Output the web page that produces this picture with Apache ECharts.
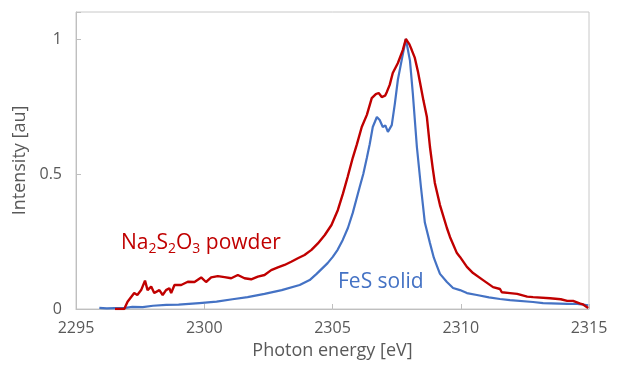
<!DOCTYPE html>
<html>
<head>
<meta charset="utf-8">
<script src="https://cdn.jsdelivr.net/npm/echarts@6/dist/echarts.min.js"></script>
<style>html,body{margin:0;padding:0;background:#fff}#c{width:617px;height:370px}</style>
</head>
<body>
<div id="c"></div>
<script>
const xTicks = [2295, 2300, 2305, 2310, 2315];
const yTicks = [0, 0.5, 1];

const naEnergy = [2296.52,2296.88,2297.01,2297.27,2297.39,2297.54,2297.69,2297.79,2297.93,2298.05,2298.25,2298.38,2298.51,2298.64,2298.71,2298.84,2299.10,2299.36,2299.62,2299.88,2300.07,2300.27,2300.53,2300.79,2301.05,2301.31,2301.57,2301.83,2302.09,2302.35,2302.61,2302.87,2303.13,2303.39,2303.65,2303.91,2304.18,2304.43,2304.70,2304.96,2305.21,2305.41,2305.59,2305.79,2305.95,2306.14,2306.34,2306.53,2306.69,2306.80,2306.92,2307.05,2307.12,2307.23,2307.35,2307.55,2307.74,2307.86,2308.00,2308.09,2308.21,2308.33,2308.41,2308.55,2308.68,2308.80,2308.91,2308.99,2309.19,2309.46,2309.58,2309.85,2309.97,2310.24,2310.48,2310.87,2311.26,2311.53,2311.60,2311.92,2312.20,2312.59,2312.82,2313.48,2313.90,2314.15,2314.38,2314.66,2314.77,2314.97];
const naIntensity = [0,0,0.027,0.059,0.052,0.07,0.105,0.07,0.083,0.059,0.07,0.052,0.07,0.077,0.059,0.089,0.089,0.101,0.1,0.117,0.1,0.117,0.122,0.118,0.114,0.126,0.114,0.11,0.12,0.126,0.144,0.154,0.163,0.175,0.188,0.2,0.219,0.243,0.274,0.311,0.367,0.428,0.489,0.56,0.61,0.674,0.719,0.781,0.796,0.8,0.785,0.79,0.804,0.83,0.874,0.911,0.959,1.0,0.98,0.959,0.93,0.88,0.84,0.77,0.711,0.6,0.52,0.467,0.385,0.3,0.267,0.207,0.193,0.156,0.133,0.107,0.081,0.074,0.062,0.059,0.056,0.046,0.044,0.04,0.036,0.03,0.03,0.02,0.017,0.004];

const fesEnergy = [2295.91,2296.2,2296.5,2296.92,2297.2,2297.6,2298.0,2298.52,2299.0,2299.81,2300.48,2301.1,2301.69,2302.35,2303.02,2303.72,2304.11,2304.38,2304.81,2305.01,2305.2,2305.4,2305.6,2305.79,2306.06,2306.2,2306.34,2306.45,2306.57,2306.73,2306.84,2306.96,2307.06,2307.16,2307.31,2307.43,2307.55,2307.72,2307.86,2308.02,2308.13,2308.29,2308.45,2308.6,2308.8,2308.95,2309.07,2309.19,2309.46,2309.7,2309.97,2310.24,2310.63,2311.1,2311.53,2311.92,2312.82,2313.21,2314.15,2314.54,2314.97];
const fesIntensity = [0.004,0.002,0.003,0.004,0.008,0.007,0.012,0.015,0.016,0.022,0.027,0.036,0.044,0.056,0.07,0.089,0.107,0.13,0.17,0.193,0.219,0.256,0.3,0.356,0.452,0.5,0.56,0.61,0.674,0.711,0.7,0.674,0.68,0.656,0.681,0.76,0.85,0.933,1.0,0.92,0.8,0.6,0.45,0.32,0.244,0.19,0.16,0.13,0.1,0.078,0.07,0.059,0.052,0.043,0.037,0.033,0.026,0.022,0.019,0.019,0.014];

const zip = (a, b) => a.map((v, i) => [v, b[i]]);
const FONT = '"Open Sans", "Noto Sans", sans-serif';

const chart = echarts.init(document.getElementById('c'));
chart.setOption({
  animation: false,
  grid: { left: 76, right: 28, top: 12, bottom: 61, show: true, borderColor: '#c8c8c8', borderWidth: 1 },
  xAxis: {
    type: 'value', min: xTicks[0], max: xTicks[xTicks.length - 1], interval: 5,
    name: 'Photon energy [eV]', nameLocation: 'middle', nameGap: 33,
    nameTextStyle: { color: '#595959', fontSize: 18, fontFamily: FONT },
    axisLine: { show: true, lineStyle: { color: '#bfbfbf' } },
    axisTick: { show: true, inside: true, length: 5, lineStyle: { color: '#bfbfbf' } },
    axisLabel: { color: '#595959', fontSize: 16, fontFamily: FONT, margin: 11, formatter: v => String(v) },
    splitLine: { show: false }
  },
  yAxis: {
    type: 'value', min: 0, max: 1.1, interval: 0.5,
    name: 'Intensity [au]', nameLocation: 'middle', nameGap: 41,
    nameTextStyle: { color: '#595959', fontSize: 18, fontFamily: FONT },
    axisLine: { show: true, lineStyle: { color: '#bfbfbf' } },
    axisTick: { show: true, inside: true, length: 5, lineStyle: { color: '#bfbfbf' } },
    axisLabel: { color: '#595959', fontSize: 16, fontFamily: FONT, margin: 14,
      formatter: v => (yTicks.indexOf(Math.round(v * 10) / 10) >= 0 ? String(Math.round(v * 10) / 10) : '') },
    splitLine: { show: false }
  },
  series: [
    { type: 'line', name: 'FeS solid', data: zip(fesEnergy, fesIntensity), showSymbol: false,
      lineStyle: { color: '#4472c4', width: 2.2 }, z: 2 },
    { type: 'line', name: 'Na2S2O3 powder', data: zip(naEnergy, naIntensity), showSymbol: false,
      lineStyle: { color: '#c00000', width: 2.4 }, z: 3 }
  ],
  graphic: [
    { type: 'text', x: 121, y: 243, style: {
        text: '{a|Na}{s|2}{a|S}{s|2}{a|O}{s|3}{a| powder}',
        verticalAlign: 'middle', fill: '#c00000',
        rich: {
          a: { fontSize: 21, fontFamily: FONT, fill: '#c00000' },
          s: { fontSize: 14, fontFamily: FONT, fill: '#c00000', padding: [13, 0, 0, 0] }
        } } },
    { type: 'text', x: 338, y: 282, style: {
        text: 'FeS solid', verticalAlign: 'middle', fill: '#4472c4',
        fontSize: 21, fontFamily: FONT } }
  ]
});
</script>
</body>
</html>
